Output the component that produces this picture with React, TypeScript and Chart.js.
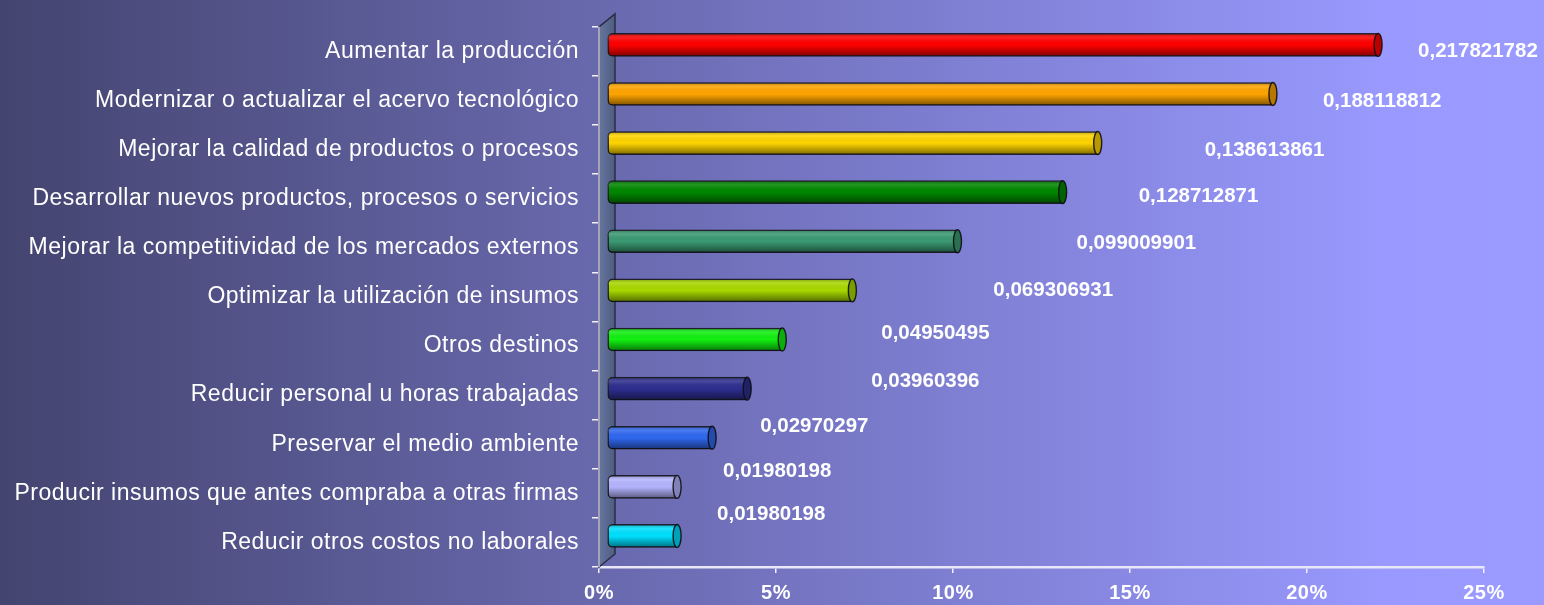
import React, { useEffect, useRef } from 'react';
import { Chart, registerables } from 'chart.js';

Chart.register(...registerables);

const CATEGORIES = [
  'Aumentar la producción',
  'Modernizar o actualizar el acervo tecnológico',
  'Mejorar la calidad de productos o procesos',
  'Desarrollar nuevos productos, procesos o servicios',
  'Mejorar la competitividad de los mercados externos',
  'Optimizar la utilización de insumos',
  'Otros destinos',
  'Reducir personal u horas trabajadas',
  'Preservar el medio ambiente',
  'Producir insumos que antes compraba a otras firmas',
  'Reducir otros costos no laborales',
];

const VALUES = [
  0.217821782, 0.188118812, 0.138613861, 0.128712871, 0.099009901, 0.069306931,
  0.04950495, 0.03960396, 0.02970297, 0.01980198, 0.01980198,
];

const BAR_COLORS = [
  '#ff0000', '#ffa500', '#ffd500', '#008800', '#3a9a72', '#a8d800',
  '#11f011', '#2e2e90', '#3068f0', '#b4b4ff', '#00e0ff',
];

// label placement nudges (px) relative to the bar end / category centre
const LABEL_DX = [48, 58, 115, 84, 127, 149, 107, 132, 56, 54, 48];
const LABEL_DY = [0, 1, 1, -2, -4, -7, -13, -14, -18, -22, -28];

const FONT = "'Liberation Sans', Arial, Helvetica, sans-serif";
const WALL_DX = 16;
const WALL_DY = -13;
const SHIFT_X = 8;
const SHIFT_Y = -6.5;

function shade(hex: string, f: number): string {
  const n = parseInt(hex.slice(1), 16);
  const r = Math.round(((n >> 16) & 255) * f);
  const g = Math.round(((n >> 8) & 255) * f);
  const b = Math.round((n & 255) * f);
  return `rgb(${r},${g},${b})`;
}

const decorPlugin = {
  id: 'decor',
  beforeDraw(chart: any) {
    const { ctx, width, height } = chart;
    ctx.save();
    const g = ctx.createLinearGradient(0, 0, width, 0);
    g.addColorStop(0, '#444470');
    g.addColorStop(0.9, '#9999ff');
    g.addColorStop(1, '#9a9aff');
    ctx.fillStyle = g;
    ctx.fillRect(0, 0, width, height);
    ctx.restore();
    ctx.letterSpacing = '0.5px';
  },
  beforeDatasetsDraw(chart: any) {
    const { ctx, chartArea } = chart;
    ctx.letterSpacing = '0px';
    const l = chartArea.left;
    const t = chartArea.top;
    const b = chartArea.bottom;
    // side wall
    ctx.save();
    ctx.beginPath();
    ctx.moveTo(l, t);
    ctx.lineTo(l + WALL_DX, t + WALL_DY);
    ctx.lineTo(l + WALL_DX, b + WALL_DY);
    ctx.lineTo(l, b);
    ctx.closePath();
    const wg = ctx.createLinearGradient(l, 0, l + WALL_DX, 0);
    wg.addColorStop(0, '#6676a0');
    wg.addColorStop(1, '#4f5c80');
    ctx.fillStyle = wg;
    ctx.fill();
    ctx.strokeStyle = '#2a2c48';
    ctx.lineWidth = 1.5;
    ctx.stroke();
    ctx.beginPath();
    ctx.moveTo(l, t);
    ctx.lineTo(l, b);
    ctx.strokeStyle = '#a4a4b4';
    ctx.lineWidth = 2;
    ctx.stroke();
    ctx.restore();
    ctx.save();
    ctx.translate(SHIFT_X, SHIFT_Y);
  },
  afterDatasetsDraw(chart: any) {
    const { ctx } = chart;
    const meta = chart.getDatasetMeta(0);
    meta.data.forEach((el: any, i: number) => {
      const { x, y, base, height } = el.getProps(['x', 'y', 'base', 'height'], true);
      const h = height;
      const top = y - h / 2;
      // cylinder shading
      ctx.save();
      ctx.beginPath();
      ctx.roundRect(base, top, x - base, h, [5, 0, 0, 5]);
      ctx.clip();
      const sg = ctx.createLinearGradient(0, top, 0, top + h);
      sg.addColorStop(0, 'rgba(0,0,0,0.3)');
      sg.addColorStop(0.2, 'rgba(255,255,255,0.12)');
      sg.addColorStop(0.5, 'rgba(0,0,0,0)');
      sg.addColorStop(0.72, 'rgba(0,0,0,0.22)');
      sg.addColorStop(1, 'rgba(0,0,0,0.5)');
      ctx.fillStyle = sg;
      ctx.fillRect(base, top, x - base, h);
      ctx.restore();
      // end cap
      ctx.save();
      ctx.beginPath();
      ctx.ellipse(x, y, 4, h / 2, 0, 0, Math.PI * 2);
      ctx.fillStyle = shade(BAR_COLORS[i], 0.72);
      ctx.fill();
      ctx.strokeStyle = 'rgba(15,15,20,0.9)';
      ctx.lineWidth = 1.4;
      ctx.stroke();
      ctx.restore();
    });
    ctx.restore();
    // data labels
    const xs = chart.scales.x;
    const ys = chart.scales.y;
    ctx.save();
    ctx.letterSpacing = '0px';
    ctx.font = `bold 20.5px ${FONT}`;
    ctx.fillStyle = '#ffffff';
    ctx.textAlign = 'left';
    ctx.textBaseline = 'middle';
    VALUES.forEach((v, i) => {
      const px = xs.getPixelForValue(v) + LABEL_DX[i];
      const py = ys.getPixelForValue(i) + LABEL_DY[i];
      ctx.fillText(String(v).replace('.', ','), px, py);
    });
    ctx.restore();
  },
};

export default function App() {
  const ref = useRef<HTMLCanvasElement | null>(null);
  useEffect(() => {
    document.body.style.margin = '0';
    const canvas = ref.current;
    if (!canvas) return;
    const chart = new Chart(canvas, {
      type: 'bar',
      data: {
        labels: CATEGORIES,
        datasets: [
          {
            data: VALUES,
            backgroundColor: BAR_COLORS,
            borderColor: 'rgba(20,20,25,0.85)',
            borderWidth: 1.5,
            borderSkipped: false,
            borderRadius: { topLeft: 5, bottomLeft: 5, topRight: 0, bottomRight: 0 },
            barThickness: 23,
            clip: false as any,
          },
        ],
      },
      options: {
        indexAxis: 'y',
        animation: false,
        responsive: false,
        maintainAspectRatio: false,
        layout: { padding: { top: 26, right: 60, bottom: 0, left: 0 } },
        plugins: {
          legend: { display: false },
          tooltip: { enabled: false },
        },
        scales: {
          x: {
            min: 0,
            max: 0.25,
            ticks: {
              stepSize: 0.05,
              color: '#ffffff',
              padding: 8,
              font: { family: FONT, size: 20, weight: 'bold' },
              callback: (v: any) => Math.round(Number(v) * 100) + '%',
            },
            grid: {
              drawOnChartArea: false,
              drawTicks: true,
              tickLength: 6,
              color: '#f0f0ff',
              lineWidth: 1.5,
            },
            border: { color: '#e8e8f8', width: 2.5 },
            afterFit: (s: any) => {
              s.height = 38;
            },
          },
          y: {
            ticks: {
              color: '#ffffff',
              padding: 13,
              font: { family: FONT, size: 23 },
            },
            grid: {
              drawOnChartArea: false,
              drawTicks: true,
              tickLength: 7,
              color: '#f0f0ff',
              lineWidth: 1.5,
              offset: true,
            },
            border: { color: '#a4a4b4', width: 2 },
            afterFit: (s: any) => {
              s.width = 599;
            },
          },
        },
      },
      plugins: [decorPlugin],
    });
    return () => chart.destroy();
  }, []);
  return (
    <div style={{ width: 1544, height: 605, position: 'relative' }}>
      <canvas ref={ref} width={1544} height={605} style={{ display: 'block' }} />
    </div>
  );
}
